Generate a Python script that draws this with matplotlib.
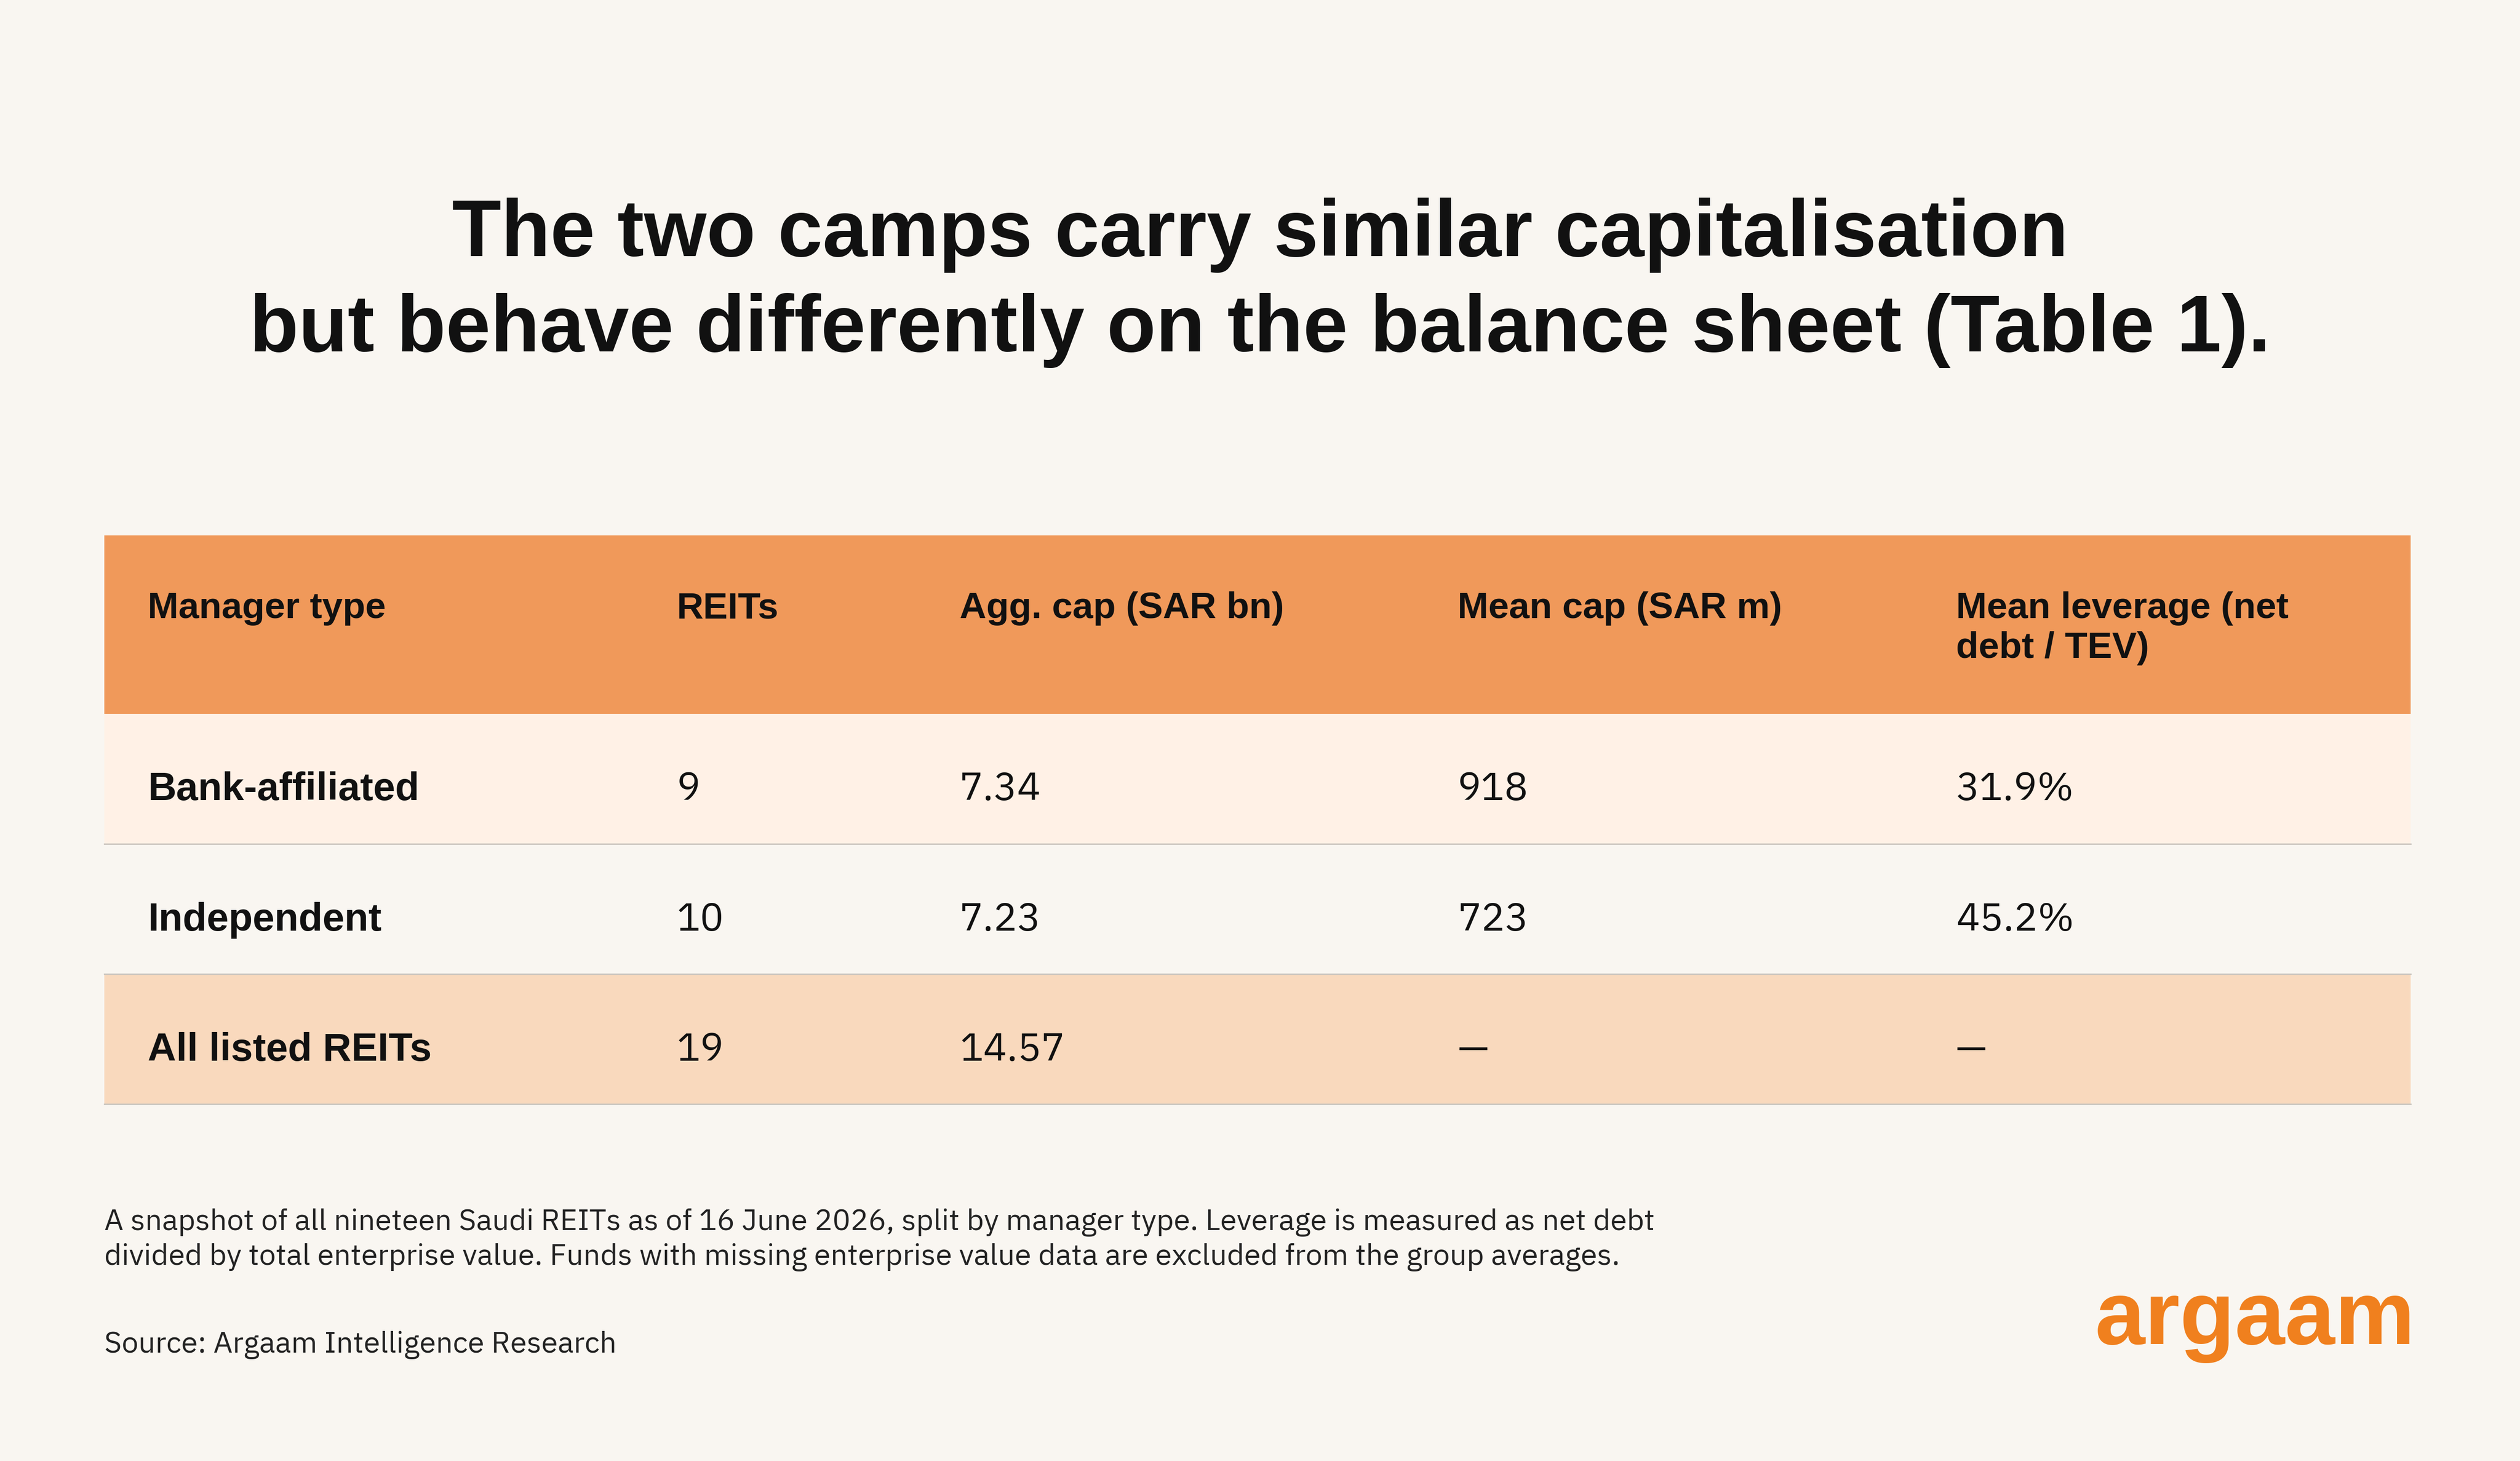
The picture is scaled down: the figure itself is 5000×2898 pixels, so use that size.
import matplotlib
matplotlib.use("Agg")
import matplotlib.pyplot as plt
from matplotlib.patches import Rectangle

plt.rcParams['font.family'] = ['IBM Plex Sans', 'Noto Sans', 'DejaVu Sans']
BOLD = ['Liberation Sans', 'DejaVu Sans']

title = "The two camps carry similar capitalisation\nbut behave differently on the balance sheet (Table 1)."
columns = ["Manager type", "REITs", "Agg. cap (SAR bn)", "Mean cap (SAR m)", "Mean leverage (net\ndebt / TEV)"]
managerTypes = ["Bank-affiliated", "Independent", "All listed REITs"]
reitCounts = ["9", "10", "19"]
aggCap = ["7.34", "7.23", "14.57"]
meanCap = ["918", "723", "\u2014"]
meanLeverage = ["31.9%", "45.2%", "\u2014"]
note = ("A snapshot of all nineteen Saudi REITs as of 16 June 2026, split by manager type. Leverage is measured as net debt\n"
        "divided by total enterprise value. Funds with missing enterprise value data are excluded from the group averages.")
source = "Source: Argaam Intelligence Research"

W, H = 1568, 909
S = 5000 / W
def pt(px):
    return px * S * 0.72

fig = plt.figure(figsize=(50, 28.98), dpi=100)
fig.patch.set_facecolor("#f9f6f1")
ax = fig.add_axes([0, 0, 1, 1])
ax.set_xlim(0, W)
ax.set_ylim(H, 0)
ax.axis("off")

ax.text(W / 2, 176, title, ha="center", va="center", fontsize=pt(50), fontweight="bold",
        family=BOLD, color="#111111", linespacing=1.35)

left, right = 65, 1500
colX = [92, 421, 597, 907, 1217]
headerTop, headerBottom = 333, 444
rowH = 81
rowColors = ["#fff1e6", "#f9f6f1", "#f9d9bd"]

ax.add_patch(Rectangle((left, headerTop), right - left, headerBottom - headerTop, color="#f0995a", lw=0))
for x, c in zip(colX, columns):
    ax.text(x, 368, c, ha="left", va="top", fontsize=pt(23), fontweight="bold", family=BOLD,
            color="#111111", linespacing=1.2)

rows = list(zip(managerTypes, reitCounts, aggCap, meanCap, meanLeverage))
for i, row in enumerate(rows):
    top = headerBottom + i * rowH
    ax.add_patch(Rectangle((left, top), right - left, rowH, color=rowColors[i], lw=0))
    ax.plot([left, right], [top + rowH, top + rowH], color="#c9c4be", lw=2)
    for j, (x, v) in enumerate(zip(colX, row)):
        if j == 0:
            ax.text(x, top + rowH / 2 + 7, v, ha="left", va="center", fontsize=pt(24.5),
                    fontweight="bold", family=BOLD, color="#111111")
        else:
            ax.text(x, top + rowH / 2 + 7, v, ha="left", va="center", fontsize=pt(24.5),
                    color="#111111")

ax.text(65, 752, note, ha="left", va="top", fontsize=pt(18.6), color="#222222", linespacing=1.3)
ax.text(65, 837, source, ha="left", va="center", fontsize=pt(18.6), color="#222222")
ax.text(1503, 822, "argaam", ha="right", va="center", fontsize=pt(56), color="#f0801e",
        fontweight="bold", family=BOLD)

fig.savefig("out.png", dpi=100, facecolor=fig.get_facecolor())
